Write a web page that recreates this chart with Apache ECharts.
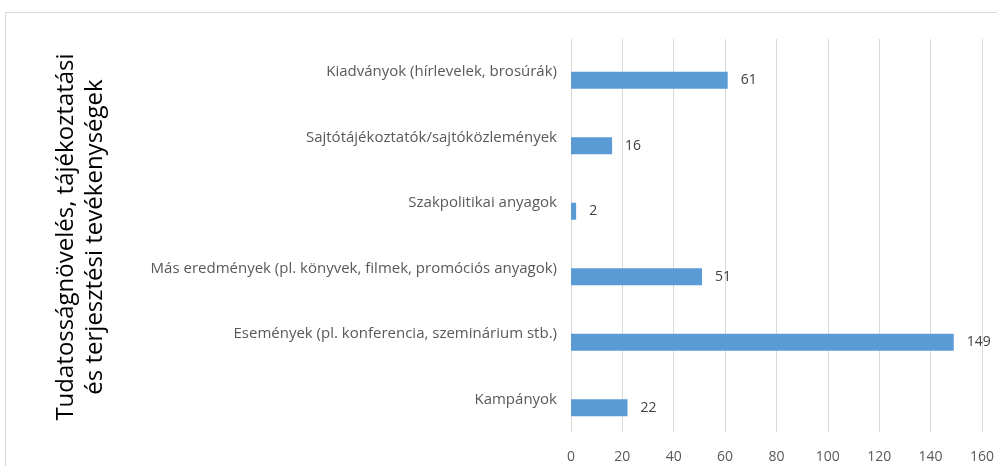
<!DOCTYPE html>
<html>
<head>
<meta charset="utf-8">
<script src="https://cdn.jsdelivr.net/npm/echarts@6/dist/echarts.min.js"></script>
<style>
  html, body { margin: 0; padding: 0; background: #fff; }
  #chart { width: 997px; height: 466px; }
</style>
</head>
<body>
<div id="chart"></div>
<script>
// categories, bottom to top (category axis runs upward)
var categories = [
  'Kampányok',
  'Események (pl. konferencia, szeminárium stb.)',
  'Más eredmények (pl. könyvek, filmek, promóciós anyagok)',
  'Szakpolitikai anyagok',
  'Sajtótájékoztatók/sajtóközlemények',
  'Kiadványok (hírlevelek, brosúrák)'
];
var counts = [22, 149, 51, 2, 16, 61];
var axisTitle = 'Tudatosságnövelés, tájékoztatási\nés terjesztési tevékenységek';
var xTicks = { min: 0, max: 160, interval: 20 };

var chart = echarts.init(document.getElementById('chart'), null, { renderer: 'canvas' });

var font = 'Open Sans';

var option = {
  animation: false,
  textStyle: { fontFamily: font },
  graphic: [
    {
      type: 'rect',
      left: 3, top: 10,
      shape: { width: 1010, height: 480 },
      style: { fill: 'none', stroke: '#d9d9d9', lineWidth: 1 },
      silent: true
    },
    {
      // rotated y-axis title, each line centred
      type: 'text',
      x: 81,
      y: 237,
      rotation: Math.PI / 2,
      silent: true,
      style: {
        text: axisTitle,
        fill: '#000',
        font: '24px "Open Sans"',
        lineHeight: 29,
        align: 'center',
        verticalAlign: 'middle'
      }
    }
  ],
  grid: {
    left: 571,
    right: 12,
    top: 39,
    bottom: 34,
    containLabel: false
  },
  xAxis: {
    type: 'value',
    min: xTicks.min,
    max: xTicks.max,
    interval: xTicks.interval,
    axisLine: { show: false },
    axisTick: { show: false },
    splitLine: { lineStyle: { color: '#d9d9d9', width: 1 } },
    axisLabel: {
      color: '#595959',
      fontSize: 14,
      margin: 18
    }
  },
  yAxis: {
    type: 'category',
    data: categories,
    axisLine: { show: false },
    axisTick: { show: false },
    axisLabel: {
      color: '#595959',
      fontSize: 15,
      margin: 14
    }
  },
  series: [
    {
      // empty companion series, shifts the real bars below the band centre
      type: 'bar',
      data: categories.map(function () { return '-'; }),
      barWidth: 17,
      barGap: '0%'
    },
    {
      type: 'bar',
      data: counts,
      barWidth: 17,
      barGap: '0%',
      itemStyle: { color: '#5b9bd5' },
      label: {
        show: true,
        position: 'right',
        distance: 13,
        color: '#404040',
        fontSize: 14
      }
    }
  ]
};

chart.setOption(option);
</script>
</body>
</html>
